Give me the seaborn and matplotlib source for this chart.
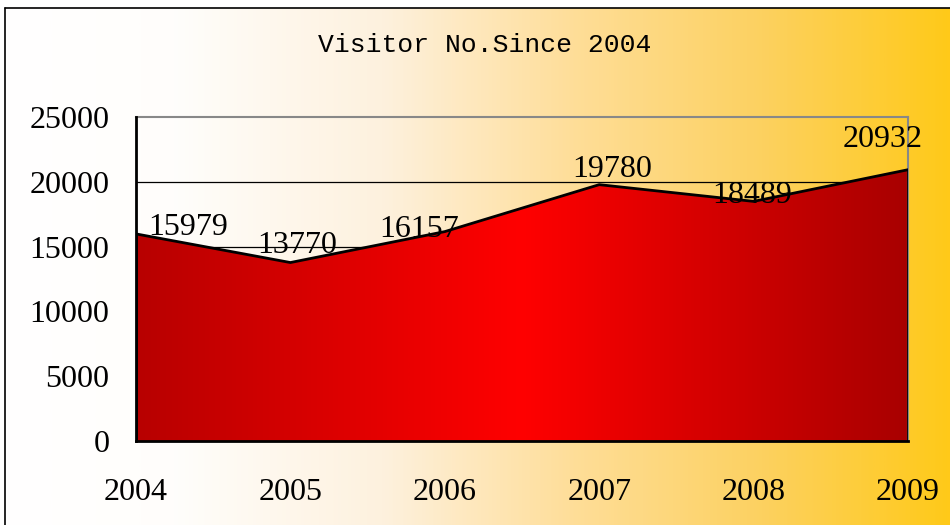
import numpy as np
import matplotlib
matplotlib.use("Agg")
import matplotlib.pyplot as plt
from matplotlib.colors import LinearSegmentedColormap
from matplotlib.lines import Line2D
import seaborn as sns

# ---- data ----
years = [2004, 2005, 2006, 2007, 2008, 2009]
visitors = [15979, 13770, 16157, 19780, 18489, 20932]
year_labels = ["2004", "2005", "2006", "2007", "2008", "2009"]
y_ticks = [0, 5000, 10000, 15000, 20000, 25000]
title = "Visitor No.Since 2004"

# label offsets (pixels) - style only
label_dx = [52, 7, -26, 13, -1, -25]
label_dy = [6, 17, 2, 15, 6, 30]

sns.set_style("white")
plt.rcParams["font.family"] = ["Liberation Serif", "DejaVu Serif"]
plt.rcParams["text.color"] = "black"
plt.rcParams["xtick.color"] = "black"
plt.rcParams["ytick.color"] = "black"

W, H = 950, 525
fig = plt.figure(figsize=(W / 100, H / 100), dpi=100)
fig.patch.set_facecolor("white")

# background gradient panel
bg = fig.add_axes([5 / W, 0, 1 - 5 / W, 1 - 8 / H], zorder=0)
bg_cmap = LinearSegmentedColormap.from_list(
    "bg",
    [(0.0, (1, 1, 1)), (0.18, (1.0, 0.995, 0.985)), (0.4, (0.995, 0.945, 0.87)),
     (0.6, (0.998, 0.87, 0.6)), (0.8, (0.99, 0.82, 0.38)), (1.0, (1.0, 0.79, 0.1))])
bg.imshow(np.linspace(0, 1, 512)[None, :], aspect="auto", cmap=bg_cmap,
          extent=[0, 1, 0, 1])
bg.set_axis_off()

# frame lines (left and top)
fig.add_artist(Line2D([5 / W, 5 / W], [0, 1 - 8 / H], color="black", lw=1.2))
fig.add_artist(Line2D([5 / W, 1], [1 - 8 / H, 1 - 8 / H], color="black", lw=1.2))

# main axes
L, R, T, B = 136, 908, 117, 441
ax = fig.add_axes([L / W, 1 - B / H, (R - L) / W, (B - T) / H], zorder=1)
ax.set_facecolor("none")

ax.set_xlim(2004, 2009)
ax.set_ylim(0, 25000)

# gridlines
for yv in y_ticks[1:-1]:
    ax.axhline(yv, color="black", lw=0.9, zorder=1)

# area with horizontal gradient
poly = ax.fill_between(years, visitors, 0, color="none", lw=0, zorder=2)
area_cmap = LinearSegmentedColormap.from_list(
    "area", [(0.0, (0.72, 0.0, 0.0)), (0.5, (1.0, 0.0, 0.0)), (1.0, (0.66, 0.0, 0.0))])
im = ax.imshow(np.linspace(0, 1, 512)[None, :], aspect="auto", cmap=area_cmap,
               extent=[2004, 2009, 0, 25000], zorder=2)
im.set_clip_path(poly.get_paths()[0], transform=ax.transData)
ax.set_xlim(2004, 2009)
ax.set_ylim(0, 25000)

sns.lineplot(x=years, y=visitors, ax=ax, color="black", lw=2, zorder=3)
ax.plot([2004, 2004], [0, visitors[0]], color="black", lw=2, zorder=3, solid_capstyle="butt")
ax.plot([2009, 2009], [0, visitors[-1]], color="black", lw=2, zorder=3, solid_capstyle="butt")

# spines
for s in ["top", "right"]:
    ax.spines[s].set_color("#888888")
    ax.spines[s].set_linewidth(1.5)
for s in ["left", "bottom"]:
    ax.spines[s].set_color("black")
    ax.spines[s].set_linewidth(2)
    ax.spines[s].set_zorder(4)

ax.set_xticks(years)
ax.set_xticklabels(year_labels)
ax.set_yticks(y_ticks)
ax.set_yticklabels([str(v) for v in y_ticks])
ax.tick_params(axis="x", direction="in", length=7, width=1, color="black",
               labelcolor="black", labelsize=23, pad=27)
ax.tick_params(axis="y", direction="in", length=7, width=1, color="black",
               labelcolor="black", labelsize=23, pad=19)
for t in ax.get_xticklines() + ax.get_yticklines():
    t.set_zorder(5)

# data labels
for x, y, dx, dy in zip(years, visitors, label_dx, label_dy):
    ax.annotate(str(y), (x, y), xytext=(dx, dy), textcoords="offset pixels",
                ha="center", va="center", fontsize=23, color="black",
                zorder=6, annotation_clip=False)

fig.text(485 / W, 1 - 45 / H, title, ha="center", va="center",
         fontsize=19, family=["Liberation Mono", "DejaVu Sans Mono"], color="black")

fig.savefig("out.png", dpi=100)
